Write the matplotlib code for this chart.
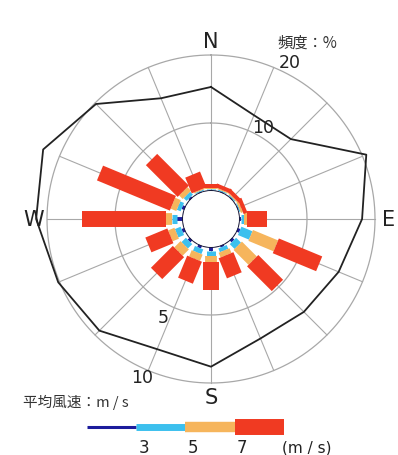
import numpy as np
import matplotlib
matplotlib.use("Agg")
import matplotlib.pyplot as plt

# 16 compass directions, clockwise from north
directions = ["N", "NNE", "NE", "ENE", "E", "ESE", "SE", "SSE",
              "S", "SSW", "SW", "WSW", "W", "WNW", "NW", "NNW"]

# frequency polygon (%)
frequency = [15.3, 12.4, 12.5, 20.6, 18.1, 16.2, 15.2, 14.9,
             17.6, 16.6, 19.1, 20.2, 21.6, 22.6, 19.8, 15.1]

# mean wind speed bars: length of each speed-class segment (radial units)
seg_lt3 = [0.15, 0.15, 0.15, 0.15, 0.3, 0.45, 0.45, 0.3,
           0.6, 0.45, 0.45, 0.45, 0.9, 0.45, 0.3, 0.15]
seg_3to5 = [0.15, 0.15, 0.15, 0.15, 0.45, 1.75, 1.0, 0.6,
            0.75, 0.75, 0.9, 0.9, 0.75, 0.6, 0.6, 0.15]
seg_5to7 = [0.15, 0.15, 0.15, 0.3, 0.45, 4.0, 3.1, 0.75,
            0.9, 1.0, 1.3, 1.0, 0.9, 0.9, 0.75, 0.15]
seg_ge7 = [0.6, 0.6, 0.6, 0.6, 2.9, 6.9, 5.15, 3.2,
           4.0, 3.5, 4.55, 3.5, 12.35, 11.6, 6.6, 2.5]

freq_rings = [10, 20]
speed_breaks = [3, 5, 7]
class_colors = ["#1c1c9c", "#3cc0ee", "#f6b55c", "#f03a22"]
class_widths = [2.8, 6.5, 8.5, 11.5]   # points, in the rose
legend_widths = [2.2, 5.0, 7.5, 11.5]  # points, in the legend strip

W_PX, H_PX = 398, 456
CX, CY = 211, 220
HOLE = 28 / 6.8
RMAX = 23.0
R_PX = (RMAX + HOLE) * 6.8

fig = plt.figure(figsize=(W_PX / 100, H_PX / 100), dpi=100)
fig.patch.set_facecolor("white")

ax = fig.add_axes([(CX - R_PX) / W_PX, (H_PX - CY - R_PX) / H_PX,
                   2 * R_PX / W_PX, 2 * R_PX / H_PX], projection="polar")
ax.set_theta_zero_location("N")
ax.set_theta_direction(-1)
ax.set_ylim(0, RMAX)
ax.set_rorigin(-HOLE)
ax.set_axis_off()

theta = np.deg2rad(np.arange(len(directions)) * 22.5)
full = np.linspace(0, 2 * np.pi, 361)
grid_col = "#a8a8a8"

for ring in freq_rings:
    ax.plot(full, np.full_like(full, ring), color=grid_col, lw=0.9, zorder=1)
for th in theta:
    ax.plot([th, th], [0, freq_rings[-1]], color=grid_col, lw=0.8, zorder=1)

# speed bars, stacked outward from the hole
start = np.zeros(len(directions))
for segs, col, lw in zip([seg_lt3, seg_3to5, seg_5to7, seg_ge7], class_colors, class_widths):
    segs = np.asarray(segs)
    for th, r0, length in zip(theta, start, segs):
        ax.plot([th, th], [r0, r0 + length], color=col, lw=lw,
                solid_capstyle="butt", zorder=3)
    start = start + segs

ax.plot(full, np.zeros_like(full), color="#1a1a3a", lw=1.4, zorder=4)

poly_th = np.append(theta, theta[0])
poly_r = np.append(frequency, frequency[0])
ax.plot(poly_th, poly_r, color="#222222", lw=1.3, zorder=5, clip_on=False)

label_font = ["DejaVu Sans"]
for name, deg in zip(["N", "E", "S", "W"], [0, 90, 180, 270]):
    ax.text(np.deg2rad(deg), 22.0, name, ha="center", va="center",
            fontsize=15, color="#222222", family=label_font, clip_on=False)

ax.text(np.deg2rad(26.7), 21.8, "20", ha="center", va="center", fontsize=12.5, color="#222222")
ax.text(np.deg2rad(29.5), 11.4, "10", ha="center", va="center", fontsize=12.5, color="#222222")
ax.text(np.deg2rad(206), 11.9, "5", ha="center", va="center", fontsize=12.5, color="#222222")
ax.text(np.deg2rad(203.6), 21.2, "10", ha="center", va="center", fontsize=12.5, color="#222222")

cjk = ["Noto Sans CJK JP", "DejaVu Sans"]
fig.text(307 / W_PX, 1 - 43 / H_PX, "頻度：%", ha="center", va="center",
         fontsize=11, color="#333333", family=cjk)
fig.text(23 / W_PX, 1 - 402 / H_PX, "平均風速：m / s", ha="left", va="center",
         fontsize=10.5, color="#333333", family=cjk)

# legend strip for speed classes
lx0, lx1 = 87, 340
px_per = 24.6
leg = fig.add_axes([lx0 / W_PX, 0, (lx1 - lx0) / W_PX, 46 / H_PX])
leg.set_xlim(1, 1 + (lx1 - lx0) / px_per)
leg.set_ylim(0, 46)
leg.set_axis_off()
edges = [1] + speed_breaks + [9]
for i, col in enumerate(class_colors):
    leg.plot([edges[i], edges[i + 1]], [28, 28], color=col,
             lw=legend_widths[i], solid_capstyle="butt")
for b in speed_breaks:
    leg.text(b + 0.1, 8, str(b), ha="left", va="center", fontsize=12, color="#222222")
leg.text(1 + (307 - lx0) / px_per, 8, "(m / s)", ha="center", va="center",
         fontsize=11, color="#222222")

fig.savefig("out.png", dpi=100, facecolor="white")
